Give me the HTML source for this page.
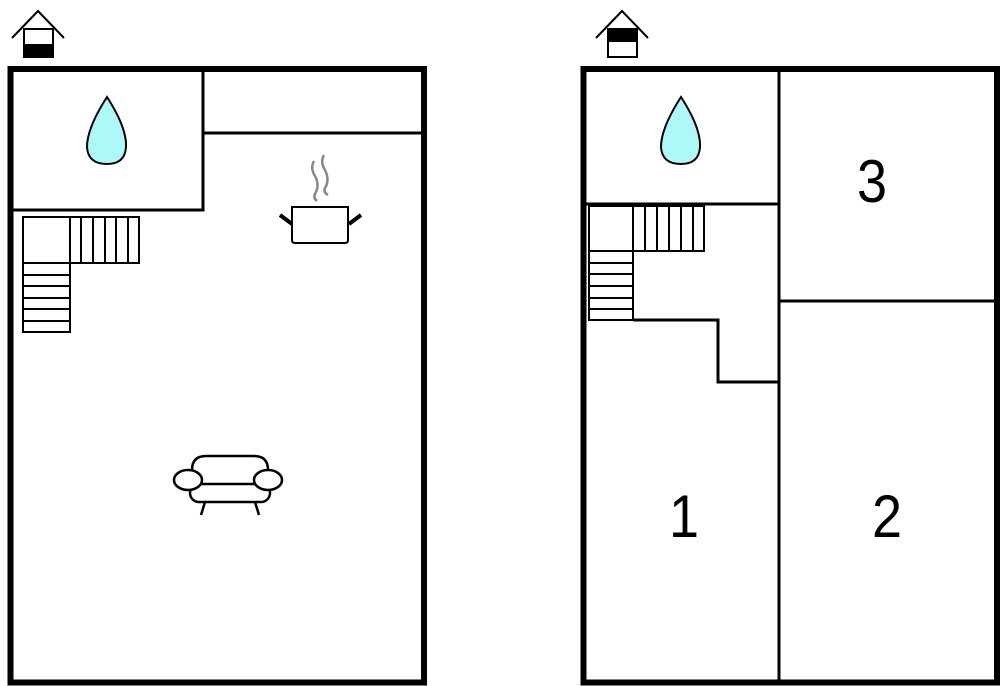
<!DOCTYPE html>
<html><head><style>html,body{margin:0;padding:0;background:#fff;}svg{display:block}</style></head>
<body>
<svg width="1000" height="686" viewBox="0 0 1000 686" xmlns="http://www.w3.org/2000/svg">
<g fill="none" stroke="#000" stroke-width="2">
<polyline points="12,38 38,11 64,38"/>
<rect x="24" y="29" width="29" height="28" fill="#fff"/>
<rect x="23" y="44" width="31" height="14" fill="#000" stroke="none"/>
<polyline points="596,38 622,11 648,38"/>
<rect x="608" y="29" width="29" height="28" fill="#fff"/>
<rect x="607" y="28" width="31" height="14" fill="#000" stroke="none"/>
</g>
<g fill="none" stroke="#000">
<rect x="10.5" y="69" width="413.5" height="613.5" stroke-width="6"/>
<polyline points="203,69 203,210 11,210" stroke-width="3"/>
<line x1="203" y1="133" x2="422" y2="133" stroke-width="3"/>
<g stroke-width="2">
<rect x="23" y="217" width="47" height="46"/>
<rect x="70" y="217" width="69" height="46"/>
<line x1="81" y1="217" x2="81" y2="263"/><line x1="93" y1="217" x2="93" y2="263"/><line x1="105" y1="217" x2="105" y2="263"/><line x1="116" y1="217" x2="116" y2="263"/><line x1="128" y1="217" x2="128" y2="263"/>
<rect x="23" y="263" width="47" height="69"/>
<line x1="23" y1="275" x2="70" y2="275"/><line x1="23" y1="286" x2="70" y2="286"/><line x1="23" y1="298" x2="70" y2="298"/><line x1="23" y1="309" x2="70" y2="309"/><line x1="23" y1="321" x2="70" y2="321"/>
</g>
<path d="M292,207 H348 V240 Q348,243 345,243 H295 Q292,243 292,240 Z" stroke-width="2"/>
<line x1="280" y1="215" x2="292" y2="224" stroke-width="4"/>
<line x1="361" y1="215" x2="349" y2="224" stroke-width="4"/>
<path d="M314,161 Q310,168 315,176 Q320,185 315,194 Q313,198 317,201" stroke="#888" stroke-width="2.5"/>
<path d="M324,155 Q320,162 325,170 Q330,180 325,188 Q323,192 328,195" stroke="#888" stroke-width="2.5"/>
<g stroke-width="2.5">
<path d="M192,484 V470 Q192,456 206,456 H254 Q268,456 268,470 V484"/>
<rect x="190" y="484" width="80" height="18" rx="9" fill="#fff"/>
<ellipse cx="188" cy="480" rx="14" ry="10" fill="#fff"/>
<ellipse cx="268" cy="480" rx="14" ry="10" fill="#fff"/>
<line x1="205" y1="502" x2="201" y2="515"/>
<line x1="255" y1="502" x2="259" y2="515"/>
</g>
<path d="M107,97 Q127,128 126,147 Q125,164 107,164 Q88,164 87,147 Q87,128 107,97 Z" fill="#aff8fa" stroke-width="2"/>
<path d="M681,97 Q701,128 700,147 Q699,164 681,164 Q662,164 661,147 Q661,128 681,97 Z" fill="#aff8fa" stroke-width="2"/>
<rect x="583.5" y="69" width="413.5" height="613.5" stroke-width="6"/>
<line x1="779" y1="69" x2="779" y2="683" stroke-width="3"/>
<line x1="586" y1="204" x2="779" y2="204" stroke-width="3"/>
<line x1="779" y1="301" x2="997" y2="301" stroke-width="3"/>
<polyline points="633,320 718,320 718,382 779,382" stroke-width="3"/>
<g stroke-width="2">
<rect x="589" y="206" width="44" height="45"/>
<rect x="633" y="206" width="71" height="45"/>
<line x1="645" y1="206" x2="645" y2="251"/><line x1="657" y1="206" x2="657" y2="251"/><line x1="669" y1="206" x2="669" y2="251"/><line x1="681" y1="206" x2="681" y2="251"/><line x1="693" y1="206" x2="693" y2="251"/>
<rect x="589" y="251" width="44" height="69"/>
<line x1="589" y1="263" x2="633" y2="263"/><line x1="589" y1="274" x2="633" y2="274"/><line x1="589" y1="286" x2="633" y2="286"/><line x1="589" y1="298" x2="633" y2="298"/><line x1="589" y1="309" x2="633" y2="309"/>
</g>
</g>
<g font-family="Liberation Sans, sans-serif" font-size="60" text-anchor="middle" fill="#000">
<text x="872" y="202" transform="translate(872 0) scale(0.9 1) translate(-872 0)">3</text>
<text x="684" y="537" transform="translate(684 0) scale(0.9 1) translate(-684 0)">1</text>
<text x="887" y="537" transform="translate(887 0) scale(0.9 1) translate(-887 0)">2</text>
</g>
</svg>
</body></html>
